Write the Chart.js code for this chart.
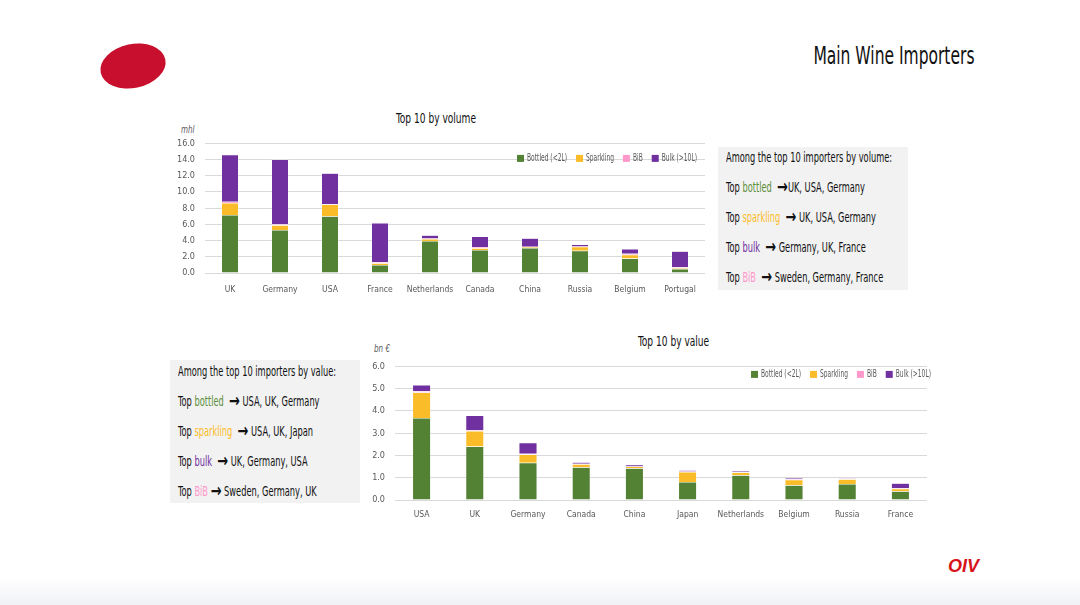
<!DOCTYPE html>
<html>
<head>
<meta charset="utf-8">
<script src="https://cdn.jsdelivr.net/npm/chart.js@4.4.0/dist/chart.umd.min.js"></script>
<style>
  html, body { margin: 0; padding: 0; }
  body {
    width: 1080px; height: 605px; position: relative; overflow: hidden;
    background: linear-gradient(to bottom, #ffffff 0px, #ffffff 578px, #f0f1f5 605px);
    font-family: "DejaVu Sans Condensed", "Liberation Sans Narrow", "Roboto", sans-serif;
  }
  .abs { position: absolute; white-space: nowrap; }
  .page-title { right: 106px; top: 41px; font-size: 25px; color: #111; transform: scaleX(0.69); transform-origin: right top; }
  .chart-title { font-size: 14px; color: #111; transform: scaleX(0.72); transform-origin: left top; }
  .unit { font-size: 10px; font-style: italic; color: #595959; transform: scaleX(0.8); transform-origin: left top; }
  .box { background: #f2f2f2; color: #111; font-size: 13.5px; }
  .box div { position: absolute; left: 8px; transform: scaleX(0.68); transform-origin: left top; }
  .ar { font-family: "DejaVu Sans", sans-serif; font-weight: bold; font-size: 19px; line-height: 0; vertical-align: -1px; }
  .g { color: #5b8f3a; } .y { color: #fbbc2a; } .p { color: #7030a0; } .k { color: #ff99cc; }
  .logo { left: 100px; top: 44px; width: 66px; height: 44px; border-radius: 50%; background: #c8102e; transform: rotate(-12deg); }
  .oiv { left: 948px; top: 556px; font-family: "Liberation Sans", Arial, sans-serif; font-weight: bold; font-style: italic; font-size: 18px; color: #d7141a; }
</style>
</head>
<body>
<div class="abs logo"></div>
<div class="abs page-title">Main Wine Importers</div>

<div class="abs chart-title" style="left:396px; top:110px;">Top 10 by volume</div>
<div class="abs unit" style="left:181px; top:124px;">mhl</div>
<canvas id="volChart" class="abs" style="left:170px; top:128px;"></canvas>

<div class="abs box" style="left:718px; top:147px; width:190px; height:143px;">
  <div style="top:2px;">Among the top 10 importers by volume:</div>
  <div style="top:32px;">Top <span class="g">bottled</span>&nbsp; <span class="ar">→</span>UK, USA, Germany</div>
  <div style="top:62px;">Top <span class="y">sparkling</span>&nbsp; <span class="ar">→</span> UK, USA, Germany</div>
  <div style="top:92px;">Top <span class="p">bulk</span>&nbsp; <span class="ar">→</span> Germany, UK, France</div>
  <div style="top:122px;">Top <span class="k">BiB</span>&nbsp; <span class="ar">→</span> Sweden, Germany, France</div>
</div>

<div class="abs chart-title" style="left:638px; top:333px;">Top 10 by value</div>
<div class="abs unit" style="left:374px; top:343px;">bn €</div>
<canvas id="valChart" class="abs" style="left:355px; top:351px;"></canvas>

<div class="abs box" style="left:170px; top:360px; width:190px; height:143px;">
  <div style="top:3px;">Among the top 10 importers by value:</div>
  <div style="top:33px;">Top <span class="g">bottled</span>&nbsp; <span class="ar">→</span> USA, UK, Germany</div>
  <div style="top:63px;">Top <span class="y">sparkling</span>&nbsp; <span class="ar">→</span> USA, UK, Japan</div>
  <div style="top:93px;">Top <span class="p">bulk</span>&nbsp; <span class="ar">→</span> UK, Germany, USA</div>
  <div style="top:123px;">Top <span class="k">BiB</span> <span class="ar">→</span> Sweden, Germany, UK</div>
</div>

<div class="abs oiv">OIV</div>

<script>
// volume, mhl
const volCountries = ['UK', 'Germany', 'USA', 'France', 'Netherlands', 'Canada', 'China', 'Russia', 'Belgium', 'Portugal'];
const volBottled   = [7.15, 5.3, 7.0, 1.0, 3.95, 2.85, 3.1, 2.75, 1.8, 0.5];
const volSparkling = [1.5, 0.6, 1.45, 0.2, 0.25, 0.2, 0.1, 0.5, 0.45, 0.1];
const volBiB       = [0.15, 0.12, 0.05, 0.12, 0.05, 0.15, 0.05, 0.03, 0.12, 0.1];
const volBulk      = [5.8, 8.0, 3.8, 4.85, 0.4, 1.3, 1.05, 0.25, 0.58, 2.0];

// value, bn EUR
const valCountries = ['USA', 'UK', 'Germany', 'Canada', 'China', 'Japan', 'Netherlands', 'Belgium', 'Russia', 'France'];
const valBottled   = [3.68, 2.4, 1.67, 1.47, 1.43, 0.81, 1.11, 0.66, 0.72, 0.39];
const valSparkling = [1.15, 0.7, 0.37, 0.14, 0.07, 0.45, 0.12, 0.25, 0.21, 0.11];
const valBiB       = [0.05, 0.03, 0.04, 0.02, 0.01, 0.02, 0.02, 0.02, 0.01, 0.03];
const valBulk      = [0.28, 0.67, 0.49, 0.07, 0.07, 0.06, 0.05, 0.06, 0.02, 0.22];

const seriesNames  = ['Bottled (<2L)', 'Sparkling', 'BiB', 'Bulk (>10L)'];
const seriesColors = ['#548235', '#fbbc2a', '#ff99cc', '#7030a0'];

const fontFamily = '"DejaVu Sans Condensed", "Liberation Sans Narrow", Roboto, sans-serif';

// legend drawn in one row at the top right of the plot, text squeezed like a condensed face
const insideLegend = {
    id: 'insideLegend',
    afterDraw: function(chart, args, opts) {
        const ctx = chart.ctx;
        const sx = 0.66, box = 7, gap = 3, itemGap = 9;
        ctx.save();
        ctx.font = '10px ' + fontFamily;
        ctx.textBaseline = 'middle';
        const items = chart.data.datasets.map(function(ds) {
            return { text: ds.label, color: ds.backgroundColor, w: ctx.measureText(ds.label).width * sx };
        });
        let total = 0;
        items.forEach(function(it, i) { total += box + gap + it.w + (i ? itemGap : 0); });
        let x = chart.chartArea.right - opts.right - total;
        const y = chart.chartArea.top + opts.top;
        items.forEach(function(it) {
            ctx.fillStyle = it.color;
            ctx.fillRect(x, y - box / 2, box, box);
            x += box + gap;
            ctx.save();
            ctx.translate(x, y);
            ctx.scale(sx, 1);
            ctx.fillStyle = '#595959';
            ctx.fillText(it.text, 0, 0.5);
            ctx.restore();
            x += it.w + itemGap;
        });
        ctx.restore();
    }
};

function makeChart(id, w, h, labels, series, yMax, yStep, yWidth, padTop, padRight, tickPad, legendOpts) {
    const canvas = document.getElementById(id);
    canvas.width = w; canvas.height = h;
    canvas.style.width = w + 'px'; canvas.style.height = h + 'px';

    const datasets = series.map(function(data, i) {
        return {
            label: seriesNames[i],
            data: data,
            backgroundColor: seriesColors[i],
            borderColor: '#ffffff',
            borderWidth: 0.5,
            barPercentage: 0.34,
            categoryPercentage: 1.0
        };
    });

    return new Chart(canvas.getContext('2d'), {
        type: 'bar',
        data: { labels: labels, datasets: datasets },
        plugins: [insideLegend],
        options: {
            responsive: false,
            animation: false,
            layout: { padding: { top: padTop, right: padRight, left: 0, bottom: 0 } },
            plugins: {
                tooltip: { enabled: false },
                legend: { display: false },
                insideLegend: legendOpts
            },
            scales: {
                x: {
                    stacked: true,
                    grid: { display: false },
                    border: { display: false },
                    ticks: { color: '#595959', font: { family: fontFamily, size: 8.5 }, padding: tickPad, maxRotation: 0, autoSkip: false },
                    afterFit: function(scale) { scale.height = 27; }
                },
                y: {
                    stacked: true,
                    min: 0, max: yMax,
                    grid: { color: '#d9d9d9', lineWidth: 1, drawTicks: false },
                    border: { display: false },
                    ticks: {
                        stepSize: yStep,
                        color: '#595959',
                        font: { family: fontFamily, size: 9 },
                        padding: 10,
                        callback: function(v) { return v.toFixed(1); }
                    },
                    afterFit: function(scale) { scale.width = yWidth; }
                }
            }
        }
    });
}

makeChart('volChart', 545, 172, volCountries,
    [volBottled, volSparkling, volBiB, volBulk], 16, 2, 35, 8, 10, 4, { top: 15, right: 8 });
makeChart('valChart', 580, 176, valCountries,
    [valBottled, valSparkling, valBiB, valBulk], 6, 1, 40, 9, 8, 2, { top: 8, right: -4 });
</script>
</body>
</html>
